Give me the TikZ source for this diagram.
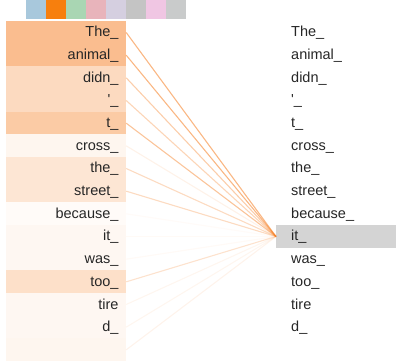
\documentclass[tikz,border=0pt]{standalone}
\usepackage{fontspec}
\setmainfont{Liberation Sans}
\definecolor{ora}{HTML}{F57C1F}
\definecolor{hl}{HTML}{D4D4D4}
\definecolor{swA}{HTML}{A8C8DC}
\definecolor{swB}{HTML}{F77F0D}
\definecolor{swC}{HTML}{A9D6B3}
\definecolor{swD}{HTML}{E8B4BB}
\definecolor{swE}{HTML}{D5CFE0}
\definecolor{swF}{HTML}{C4C4C4}
\definecolor{swG}{HTML}{F0C6E3}
\definecolor{swH}{HTML}{C9CBCB}
\begin{document}
\begin{tikzpicture}[x=1pt,y=-1pt,
  every node/.style={font=\fontsize{14.5pt}{16pt}\selectfont, text=black!85},
  lrow/.style={minimum width=120pt, minimum height=22.67pt, inner sep=0pt,
    text height=11pt, text depth=2pt, anchor=center},
  rrow/.style={minimum width=120pt, minimum height=22.67pt, inner sep=0pt,
    text height=11pt, text depth=2pt, anchor=west},
  swatch/.style={minimum width=20pt, minimum height=19pt, inner sep=0pt, anchor=north west},
  link/.style={draw=ora, line width=1.1pt}]
\useasboundingbox (0,0) rectangle (404,363);
% colour strip
\node[swatch, fill=swA] (s1) at (26,0) {};
\node[swatch, fill=swB] (s2) at (46,0) {};
\node[swatch, fill=swC] (s3) at (66,0) {};
\node[swatch, fill=swD] (s4) at (86,0) {};
\node[swatch, fill=swE] (s5) at (106,0) {};
\node[swatch, fill=swF] (s6) at (126,0) {};
\node[swatch, fill=swG] (s7) at (146,0) {};
\node[swatch, fill=swH] (s8) at (166,0) {};
% left column
\newcommand{\lt}[1]{\makebox[105pt][r]{#1}\hspace{15pt}}
\node[lrow, fill=ora!50] (l0) at (66,32.5) {\lt{The\_}};
\node[lrow, fill=ora!50] (l1) at (66,55.17) {\lt{animal\_}};
\node[lrow, fill=ora!28] (l2) at (66,77.83) {\lt{didn\_}};
\node[lrow, fill=ora!28] (l3) at (66,100.5) {\lt{\textquotesingle\_}};
\node[lrow, fill=ora!40] (l4) at (66,123.17) {\lt{t\_}};
\node[lrow, fill=ora!7] (l5) at (66,145.83) {\lt{cross\_}};
\node[lrow, fill=ora!19] (l6) at (66,168.5) {\lt{the\_}};
\node[lrow, fill=ora!19] (l7) at (66,191.17) {\lt{street\_}};
\node[lrow, fill=ora!3] (l8) at (66,213.83) {\lt{because\_}};
\node[lrow, fill=ora!6] (l9) at (66,236.5) {\lt{it\_}};
\node[lrow, fill=ora!6] (l10) at (66,259.17) {\lt{was\_}};
\node[lrow, fill=ora!24] (l11) at (66,281.83) {\lt{too\_}};
\node[lrow, fill=ora!6] (l12) at (66,304.5) {\lt{tire}};
\node[lrow, fill=ora!6] (l13) at (66,327.17) {\lt{d\_}};
\node[lrow, fill=ora!7] (l14) at (66,349.83) {\lt{}};
% right column
\newcommand{\rt}[1]{\hspace{15pt}\makebox[105pt][l]{#1}}
\node[rrow] (r0) at (276,32.5) {\rt{The\_}};
\node[rrow] (r1) at (276,55.17) {\rt{animal\_}};
\node[rrow] (r2) at (276,77.83) {\rt{didn\_}};
\node[rrow] (r3) at (276,100.5) {\rt{\textquotesingle\_}};
\node[rrow] (r4) at (276,123.17) {\rt{t\_}};
\node[rrow] (r5) at (276,145.83) {\rt{cross\_}};
\node[rrow] (r6) at (276,168.5) {\rt{the\_}};
\node[rrow] (r7) at (276,191.17) {\rt{street\_}};
\node[rrow] (r8) at (276,213.83) {\rt{because\_}};
\node[rrow, fill=hl] (r9) at (276,236.5) {\rt{it\_}};
\node[rrow] (r10) at (276,259.17) {\rt{was\_}};
\node[rrow] (r11) at (276,281.83) {\rt{too\_}};
\node[rrow] (r12) at (276,304.5) {\rt{tire}};
\node[rrow] (r13) at (276,327.17) {\rt{d\_}};
% attention links
\draw[link, draw opacity=.55] (l0.east) -- (r9.west);
\draw[link, draw opacity=.55] (l1.east) -- (r9.west);
\draw[link, draw opacity=.38] (l2.east) -- (r9.west);
\draw[link, draw opacity=.32] (l3.east) -- (r9.west);
\draw[link, draw opacity=.45] (l4.east) -- (r9.west);
\draw[link, draw opacity=.1] (l5.east) -- (r9.west);
\draw[link, draw opacity=.28] (l6.east) -- (r9.west);
\draw[link, draw opacity=.28] (l7.east) -- (r9.west);
\draw[link, draw opacity=.03] (l8.east) -- (r9.west);
\draw[link, draw opacity=.04] (l9.east) -- (r9.west);
\draw[link, draw opacity=.04] (l10.east) -- (r9.west);
\draw[link, draw opacity=.22] (l11.east) -- (r9.west);
\draw[link, draw opacity=.07] (l12.east) -- (r9.west);
\draw[link, draw opacity=.07] (l13.east) -- (r9.west);
\draw[link, draw opacity=.09] (l14.east) -- (r9.west);
\end{tikzpicture}
\end{document}
